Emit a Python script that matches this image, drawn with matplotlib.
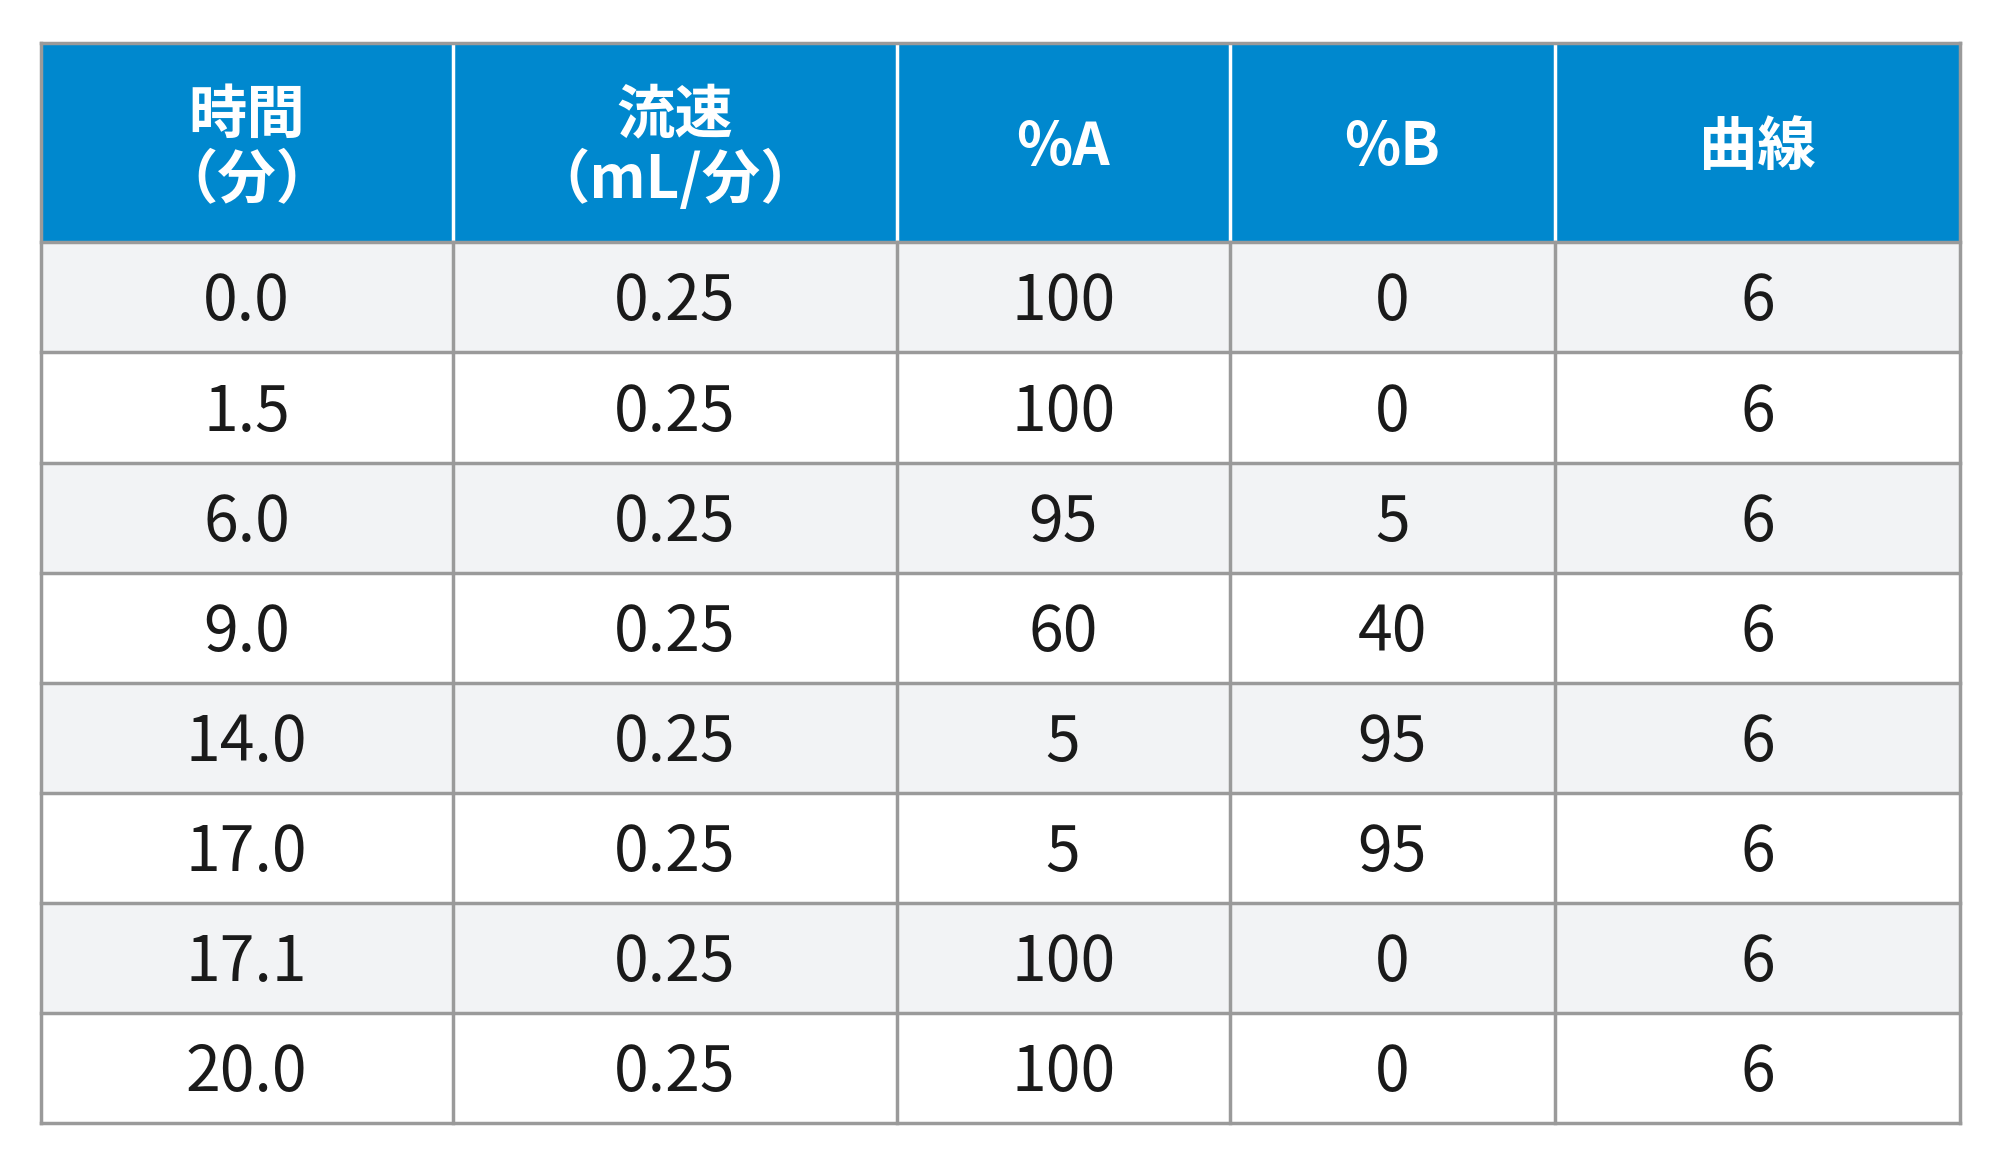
import matplotlib.pyplot as plt
from matplotlib.patches import Rectangle

headers = ["時間\n（分）", "流速\n（mL/分）", "%A", "%B", "曲線"]
times = ["0.0", "1.5", "6.0", "9.0", "14.0", "17.0", "17.1", "20.0"]
flow = ["0.25"] * 8
pct_a = ["100", "100", "95", "60", "5", "5", "100", "100"]
pct_b = ["0", "0", "5", "40", "95", "95", "0", "0"]
curve = ["6"] * 8

W, H = 1568, 920
col_edges = [32, 355, 703, 964, 1219, 1537]
top, head_bot, bottom = 34, 190, 881

fig = plt.figure(figsize=(20, 11.73), dpi=100)
ax = fig.add_axes([0, 0, 1, 1])
ax.set_xlim(0, W)
ax.set_ylim(H, 0)
ax.axis("off")

font = "Noto Sans CJK JP"
blue = "#0088CE"
line = "#9a9a9a"

ax.add_patch(Rectangle((col_edges[0], top), col_edges[-1] - col_edges[0], head_bot - top,
                       facecolor=blue, edgecolor="none"))
nrows = len(times)
rh = (bottom - head_bot) / nrows
cols = [times, flow, pct_a, pct_b, curve]
for i in range(nrows):
    y0 = head_bot + i * rh
    fc = "#f2f3f5" if i % 2 == 0 else "white"
    ax.add_patch(Rectangle((col_edges[0], y0), col_edges[-1] - col_edges[0], rh,
                           facecolor=fc, edgecolor="none"))
    for j, c in enumerate(cols):
        xc = (col_edges[j] + col_edges[j + 1]) / 2
        ax.text(xc, y0 + rh / 2 + 4, c[i], ha="center", va="center",
                fontsize=45, family=font, color="#1a1a1a")

for j, h in enumerate(headers):
    xc = (col_edges[j] + col_edges[j + 1]) / 2
    ax.text(xc, (top + head_bot) / 2 + 4, h, ha="center", va="center", fontsize=42,
            family=font, weight="bold", color="white", linespacing=1.1)

# grid lines
for x in (col_edges[0], col_edges[-1]):
    ax.plot([x, x], [top, bottom], color=line, lw=2.5)
for x in col_edges[1:-1]:
    ax.plot([x, x], [top, head_bot], color="white", lw=2.5)
    ax.plot([x, x], [head_bot, bottom], color=line, lw=2.5)
for i in range(nrows + 1):
    y = head_bot + i * rh
    ax.plot([col_edges[0], col_edges[-1]], [y, y], color=line, lw=2.5)
ax.plot([col_edges[0], col_edges[-1]], [top, top], color=line, lw=2.5)

fig.savefig("out.png", dpi=100, facecolor="white")
